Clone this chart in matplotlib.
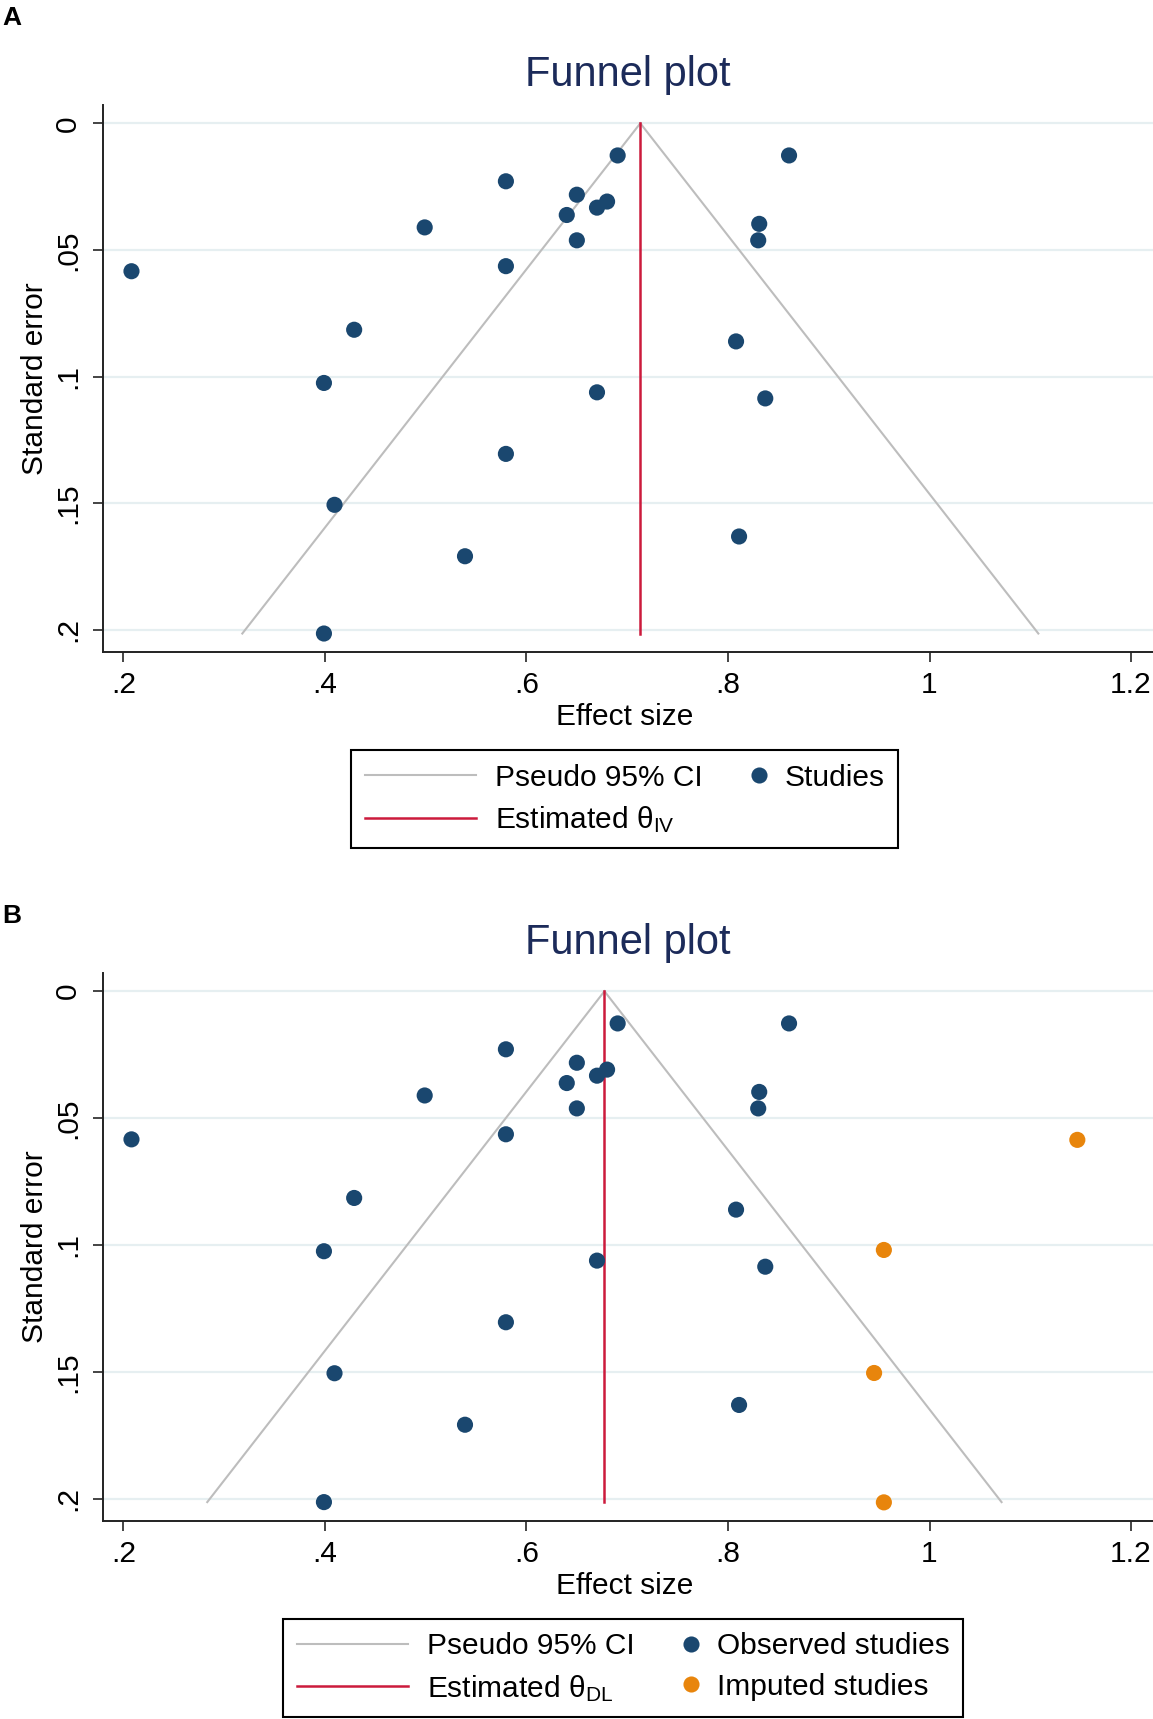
import numpy as np
import matplotlib
matplotlib.use("Agg")
import matplotlib.pyplot as plt
from matplotlib.lines import Line2D
from matplotlib.legend_handler import HandlerBase

plt.rcParams['font.family'] = ['Liberation Sans', 'DejaVu Sans']
plt.rcParams['mathtext.fontset'] = 'custom'
plt.rcParams['mathtext.rm'] = 'Liberation Sans'
plt.rcParams['mathtext.it'] = 'Liberation Sans:italic'
plt.rcParams['mathtext.bf'] = 'Liberation Sans:bold'

# ---------------- data ----------------
obs_es = [0.6905, 0.8606, 0.5796, 0.650, 0.680, 0.670, 0.640, 0.499, 0.831,
          0.650, 0.830, 0.5796, 0.208, 0.429, 0.808, 0.399, 0.670, 0.837,
          0.5796, 0.4095, 0.811, 0.539, 0.399]
obs_se = [0.0127, 0.0127, 0.0229, 0.0282, 0.0309, 0.0333, 0.0362, 0.0411, 0.0397,
          0.0462, 0.0462, 0.0564, 0.0584, 0.0815, 0.0861, 0.1025, 0.1062, 0.1086,
          0.1305, 0.1506, 0.1631, 0.1709, 0.2014]
imp_es = [1.1467, 0.9547, 0.9450, 0.9547]
imp_se = [0.0586, 0.1020, 0.1505, 0.2015]

theta_A = 0.713
ci_left_A = [0.713, 0.318]
ci_right_A = [0.713, 1.108]
theta_B = 0.6774
ci_left_B = [0.6774, 0.2832]
ci_right_B = [0.6774, 1.0715]
ci_se = [0.0, 0.2014]

xticks = [0.2, 0.4, 0.6, 0.8, 1.0, 1.2]
xtick_labels = ['.2', '.4', '.6', '.8', '1', '1.2']
yticks = [0.0, 0.05, 0.10, 0.15, 0.20]
ytick_labels = ['0', '.05', '.1', '.15', '.2']

# ---------------- style ----------------
NAVY = '#1a476f'
ORANGE = '#e8850c'
RED = '#cc1a3c'
GRAY = '#bdbdbd'
GRID = '#e6eff1'
TITLE = '#1c2b5a'
FS = 21.5
DOT = 135

fig = plt.figure(figsize=(11.53, 17.19), dpi=100)
axA = fig.add_axes([0.0893, 0.6207, 0.9107, 0.3182])
axB = fig.add_axes([0.0893, 0.1154, 0.9107, 0.3186])


class EndMarkerHandler(HandlerBase):
    """Legend handle: a single marker placed at the right end of the handle box."""
    def create_artists(self, legend, orig_handle, xdescent, ydescent,
                       width, height, fontsize, trans):
        x = -xdescent + width - 0.24 * fontsize
        y = (height - ydescent) / 2
        m = Line2D([x], [y], ls='none', marker='o',
                   ms=orig_handle.get_markersize(),
                   color=orig_handle.get_color(), mec='none')
        m.set_transform(trans)
        return [m]


def style_axes(ax):
    ax.set_xlim(0.1797, 1.2218)
    ax.set_ylim(0.2087, -0.0072)
    ax.set_xticks(xticks, xtick_labels)
    ax.set_yticks(yticks, ytick_labels)
    for s in ['top', 'right']:
        ax.spines[s].set_visible(False)
    for s in ['left', 'bottom']:
        ax.spines[s].set_linewidth(1.4)
        ax.spines[s].set_color('#222222')
    ax.tick_params(axis='both', length=7.5, width=1.4, color='#444444',
                   labelsize=FS, labelcolor='black')
    ax.tick_params(axis='x', pad=6.5)
    ax.tick_params(axis='y', pad=7.5, labelrotation=90)
    for lab in ax.get_yticklabels():
        lab.set_va('center')
    ax.grid(axis='y', color=GRID, lw=1.6)
    ax.set_axisbelow(True)
    ax.set_xlabel('Effect size', fontsize=FS)
    ax.set_ylabel('Standard error', fontsize=FS)
    ax.xaxis.set_label_coords(0.497, -0.094)
    ax.yaxis.set_label_coords(-0.051, 0.5)


# ---------------- panel A ----------------
style_axes(axA)
axA.plot(ci_left_A, ci_se, color=GRAY, lw=1.5, zorder=2)
axA.plot(ci_right_A, ci_se, color=GRAY, lw=1.5, zorder=2)
axA.plot([theta_A, theta_A], ci_se, color=RED, lw=1.8, zorder=2)
axA.scatter(obs_es, obs_se, s=DOT, color=NAVY, edgecolors='none', zorder=3)

# ---------------- panel B ----------------
style_axes(axB)
axB.plot(ci_left_B, ci_se, color=GRAY, lw=1.5, zorder=2)
axB.plot(ci_right_B, ci_se, color=GRAY, lw=1.5, zorder=2)
axB.plot([theta_B, theta_B], ci_se, color=RED, lw=1.8, zorder=2)
axB.scatter(obs_es, obs_se, s=DOT, color=NAVY, edgecolors='none', zorder=3)
axB.scatter(imp_es, imp_se, s=DOT, color=ORANGE, edgecolors='none', zorder=3)

# ---------------- titles & letters ----------------
fig.text(0.5447, 0.9500, 'Funnel plot', fontsize=30, color=TITLE,
         ha='center', va='baseline')
fig.text(0.5447, 0.4450, 'Funnel plot', fontsize=30, color=TITLE,
         ha='center', va='baseline')
fig.text(0.0017, 0.9857, 'A', fontsize=19, fontweight='bold', va='baseline')
fig.text(0.0017, 0.4630, 'B', fontsize=19, fontweight='bold', va='baseline')

# ---------------- legends ----------------
def make_legend(handles, labels, marker_handles, center):
    hm = {h: EndMarkerHandler() for h in marker_handles}
    leg = fig.legend(handles, labels, handler_map=hm, ncol=2, fontsize=FS,
                     handlelength=3.72, handletextpad=0.64, columnspacing=-1.6,
                     labelspacing=0.42, borderpad=0.45, borderaxespad=0,
                     fancybox=False, edgecolor='black', framealpha=1,
                     loc='center', bbox_to_anchor=center,
                     bbox_transform=fig.transFigure)
    leg.get_frame().set_linewidth(1.5)
    return leg

hA_ci = Line2D([], [], color=GRAY, lw=1.5)
hA_th = Line2D([], [], color=RED, lw=1.8)
hA_st = Line2D([], [], ls='none', marker='o', ms=11.6, color=NAVY, mec='none')
make_legend([hA_ci, hA_th, hA_st],
            ['Pseudo 95% CI', r'Estimated θ$_{\mathrm{IV}}$', 'Studies'],
            [hA_st], (0.542, 0.535))

hB_ci = Line2D([], [], color=GRAY, lw=1.5)
hB_th = Line2D([], [], color=RED, lw=1.8)
hB_ob = Line2D([], [], ls='none', marker='o', ms=11.6, color=NAVY, mec='none')
hB_im = Line2D([], [], ls='none', marker='o', ms=11.6, color=ORANGE, mec='none')
make_legend([hB_ci, hB_th, hB_ob, hB_im],
            ['Pseudo 95% CI', r'Estimated θ$_{\mathrm{DL}}$',
             'Observed studies', 'Imputed studies'],
            [hB_ob, hB_im], (0.5405, 0.0297))

fig.savefig('out.png', dpi=100)
